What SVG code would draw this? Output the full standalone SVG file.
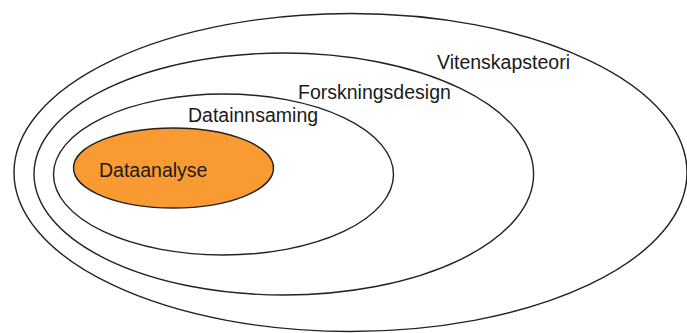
<svg xmlns="http://www.w3.org/2000/svg" width="687" height="333" viewBox="0 0 687 333">
<style>
.ring{fill:none;stroke:#222;stroke-width:1.4}
.lbl{font-family:"Liberation Sans",Arial,sans-serif;font-size:19.5px;fill:#1a1a1a}
</style>
<rect width="687" height="333" fill="#fff"/>
<g id="vitenskapsteori">
<ellipse class="ring" cx="350.5" cy="172.5" rx="336.5" ry="159"/>
<text class="lbl" x="437" y="68.5">Vitenskapsteori</text>
</g>
<g id="forskningsdesign">
<ellipse class="ring" cx="283.8" cy="174" rx="249.8" ry="121"/>
<text class="lbl" x="298" y="98.5">Forskningsdesign</text>
</g>
<g id="datainnsaming">
<ellipse class="ring" cx="223.5" cy="174.5" rx="170" ry="80.5"/>
<text class="lbl" x="188" y="122">Datainnsaming</text>
</g>
<g id="dataanalyse">
<ellipse cx="173.5" cy="168" rx="100" ry="40" fill="#F99B32" stroke="#222" stroke-width="1.4"/>
<text class="lbl" x="99" y="177">Dataanalyse</text>
</g>
<g id="connectors"/>
</svg>
